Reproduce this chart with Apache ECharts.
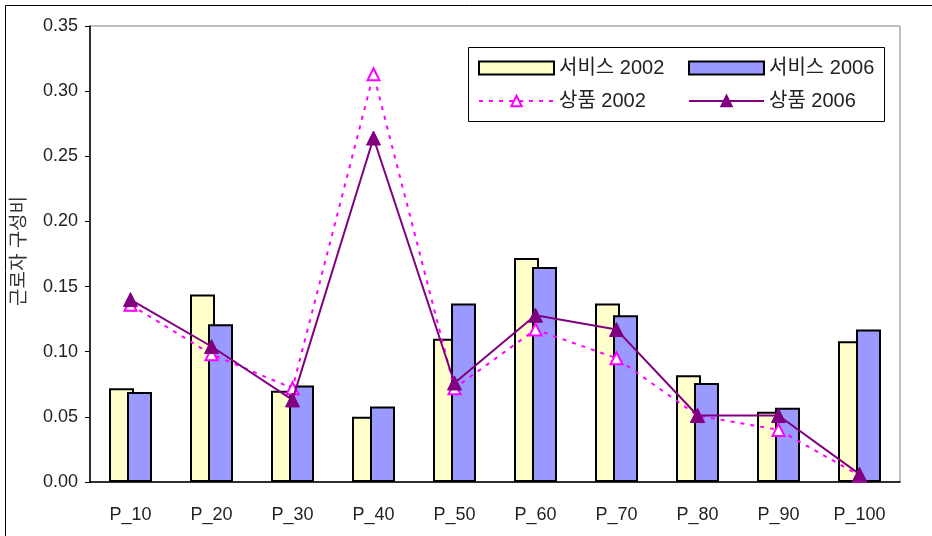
<!DOCTYPE html>
<html>
<head>
<meta charset="utf-8">
<script src="https://cdn.jsdelivr.net/npm/echarts@6/dist/echarts.min.js"></script>
<style>html,body{margin:0;padding:0;background:#fff}#c{width:932px;height:536px}</style>
</head>
<body>
<div id="c"></div>
<script>
var categories = ['P_10','P_20','P_30','P_40','P_50','P_60','P_70','P_80','P_90','P_100'];
var service2002 = [0.072,0.144,0.070,0.050,0.110,0.172,0.137,0.082,0.054,0.108];
var service2006 = [0.069,0.121,0.074,0.058,0.137,0.165,0.128,0.076,0.057,0.117];
var goods2002   = [0.136,0.098,0.072,0.313,0.072,0.117,0.095,0.051,0.040,0.005];
var goods2006   = [0.140,0.104,0.063,0.264,0.076,0.128,0.117,0.051,0.051,0.006];
var seriesNames = ['서비스 2002','서비스 2006','상품 2002','상품 2006'];
var yAxisName = '근로자 구성비';

var FONT = '"Liberation Sans", "Noto Sans CJK KR", sans-serif';
var chart = echarts.init(document.getElementById('c'));
var legendText = {fontSize: 20, fontFamily: FONT, color: '#222'};
chart.setOption({
  animation: false,
  textStyle: {fontFamily: FONT, color: '#222'},
  grid: {left: 90, top: 26, right: 32, bottom: 54, show: true, borderColor: '#808080', borderWidth: 1},
  graphic: [
    {type: 'rect', shape: {x: 5.5, y: 5.5, width: 1000, height: 1000}, style: {fill: 'none', stroke: '#000', lineWidth: 1}, z: -10},
    {type: 'rect', shape: {x: 468.5, y: 47.5, width: 416, height: 74}, style: {fill: '#fff', stroke: '#000', lineWidth: 1}, z: 1},
    {type: 'text', x: 20, y: 251, rotation: Math.PI / 2,
     style: {text: yAxisName, font: '19px ' + FONT, fill: '#333', align: 'center', verticalAlign: 'middle'}}
  ],
  legend: [
    {orient: 'vertical', left: 473, top: 53, itemWidth: 75, itemHeight: 13, itemGap: 13,
     textStyle: legendText,
     data: [{name: seriesNames[0], icon: 'rect'}, {name: seriesNames[2]}], z: 5},
    {orient: 'vertical', left: 683, top: 53, itemWidth: 75, itemHeight: 13, itemGap: 13,
     textStyle: legendText,
     data: [{name: seriesNames[1], icon: 'rect'}, {name: seriesNames[3]}], z: 5}
  ],
  xAxis: {
    type: 'category', data: categories,
    axisLine: {lineStyle: {color: '#000', width: 1.5}},
    axisTick: {inside: true, length: 5, lineStyle: {color: '#000'}},
    axisLabel: {fontSize: 18, color: '#222', margin: 24, fontFamily: FONT}
  },
  yAxis: {
    type: 'value', min: 0, max: 0.35, interval: 0.05,
    axisLine: {show: true, lineStyle: {color: '#000', width: 1.5}},
    axisTick: {show: true, length: 5, lineStyle: {color: '#000'}},
    splitLine: {show: false},
    axisLabel: {fontSize: 18, color: '#222', margin: 12, fontFamily: FONT, formatter: function(v){return v.toFixed(2);}}
  },
  series: [
    {name: seriesNames[0], type: 'bar', data: service2002, barWidth: 25, barGap: '-28%',
     itemStyle: {color: '#FFFFCC', borderColor: '#000', borderWidth: 2}},
    {name: seriesNames[1], type: 'bar', data: service2006, barWidth: 25,
     itemStyle: {color: '#9999FF', borderColor: '#000', borderWidth: 2}},
    {name: seriesNames[2], type: 'line', data: goods2002, symbol: 'triangle', symbolSize: 12,
     lineStyle: {color: '#FF00FF', width: 2, type: [4, 6]},
     itemStyle: {color: '#fff', borderColor: '#FF00FF', borderWidth: 2}, z: 3},
    {name: seriesNames[3], type: 'line', data: goods2006, symbol: 'triangle', symbolSize: 14,
     lineStyle: {color: '#800080', width: 2},
     itemStyle: {color: '#800080', borderColor: '#800080', borderWidth: 1}, z: 4}
  ]
});
</script>
</body>
</html>
